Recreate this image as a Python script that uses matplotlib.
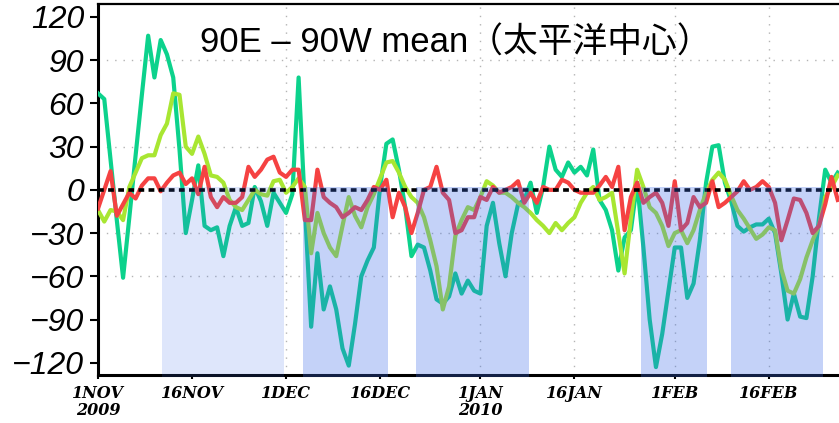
import numpy as np
import matplotlib
matplotlib.use("Agg")
import matplotlib.pyplot as plt

# days since 1 Nov 2009
days = np.arange(119)

# 90E-90W mean, three series
green = [67, 63, 21, -21, -61, -19, 24, 66, 107, 78, 104, 94, 78, 28, -30, -7, 17, -25, -28, -26,
         -46, -25, -12, -25, -23, 2, -8, -25, -2, -9, -16, -3, 78, -12, -95, -44, -83, -67, -83, -110,
         -122, -93, -60, -49, -40, 2, 32, 35, 14, -12, -46, -38, -40, -56, -76, -79, -74, -58, -72, -63,
         -70, -72, -25, -9, -37, -60, -30, -10, -7, 5, -16, 2, 30, 14, 9, 19, 12, 16, 10, 28,
         -7, -14, -28, -56, -33, -28, 5, -40, -90, -123, -100, -70, -40, -40, -75, -65, -35, 5, 30, 31,
         5, -8, -25, -29, -26, -24, -24, -20, -30, -58, -90, -72, -88, -89, -60, -20, 14, 5, 12]
yellow = [-14, -22, -14, -15, -21, 2, 12, 22, 24, 24, 38, 46, 67, 66, 30, 25, 37, 25, 10, 9,
          5, -7, -12, -14, -7, 0, -3, -4, 6, 7, -2, 2, 8, 2, -44, -16, -30, -40, -46, -25,
          -5, -18, -26, -12, -3, 8, 19, 20, 12, 2, -5, -9, -19, -35, -53, -83, -67, -32, -21, -12,
          -14, -5, 6, 3, -2, -2, -5, -9, -12, -16, -21, -25, -30, -23, -28, -23, -19, -9, -2, 2,
          -7, -5, -2, -30, -58, -20, 14, 2, -12, -16, -25, -39, -30, -28, -37, -28, -14, -2, 7, 12,
          7, -4, -14, -20, -27, -34, -31, -26, -28, -55, -70, -72, -62, -47, -35, -25, -5, 2, 10]
red = [-13, 0, 13, -18, -10, -2, -6, 3, 8, 8, -1, 5, 10, 12, 4, 8, -3, 16, -5, -12,
       -5, -9, -9, -5, 16, 9, 14, 21, 23, 12, 9, 14, 14, -21, -21, 14, -5, -9, -12, -19,
       -16, -12, -14, -7, 2, 0, 7, -19, -2, -12, -30, -16, 0, 2, 16, -2, -7, -30, -28, -19,
       -19, -5, -7, 2, -2, 0, 2, 6, -9, -2, -9, 2, 0, 0, 7, 5, 0, -2, -2, -2,
       3, 9, 2, 16, -28, -5, 5, -9, -5, -2, -9, -25, 6, -28, -23, -5, -12, -9, 6, -12,
       -9, -5, -1, 6, 0, 2, 6, 2, -9, -35, -21, -6, -7, -16, -30, -25, -10, 9, -7]

# shaded periods (day numbers)
shade_start = [10.2, 32.7, 50.7, 86.6, 101.0]
shade_end = [29.7, 46.2, 68.8, 97.2, 115.7]
shade_alpha = [0.17, 0.3, 0.3, 0.3, 0.3]

tick_days = [0, 15, 30, 45, 61, 76, 92, 107]
tick_labels = ['1NOV\n2009', '16NOV', '1DEC', '16DEC', '1JAN\n2010', '16JAN', '1FEB', '16FEB']
yticks = [-120, -90, -60, -30, 0, 30, 60, 90, 120]
ygrid = [-60, -30, 30, 90]
vgrid = [30, 61, 76, 92, 107]

title = '90E \u2013 90W mean\uff08太平洋中心\uff09'

fig = plt.figure(figsize=(8.39, 4.23), dpi=100)
ax = fig.add_axes([98 / 839, 48 / 423, 741 / 839, 371 / 423])

for v in ygrid:
    ax.axhline(v, color='#b4b4b4', lw=1.0, ls=(0, (1, 5)), zorder=1)
for v in vgrid:
    ax.axvline(v, color='#b4b4b4', lw=1.0, ls=(0, (1, 5)), zorder=1)

ax.plot(days, green, color='#0cd28c', lw=3, zorder=3)
ax.plot(days, yellow, color='#a8e632', lw=3, zorder=3)
ax.plot(days, red, color='#f54242', lw=3, zorder=3)

ax.axhline(0, color='black', lw=2.6, ls=(0, (1.6, 1.2)), zorder=4)

for s, e, a in zip(shade_start, shade_end, shade_alpha):
    ax.fill_between([s, e], -130, 2, color='#3c6ce8', alpha=a, lw=0,
                    zorder=5, clip_on=False)

ax.set_xlim(0, 118.2)
ax.set_ylim(-128.5, 129)

ax.set_yticks(yticks)
ax.set_yticklabels([str(v).replace('-', '\u2212') for v in yticks],
                   fontsize=23, fontstyle='italic', family='Liberation Sans')
ax.set_xticks(tick_days)
ax.set_xticklabels(tick_labels, fontsize=11.5, fontweight='bold', fontstyle='italic',
                   family='DejaVu Serif', linespacing=1.0)

ax.tick_params(axis='y', direction='out', length=6, width=1.5, pad=4)
ax.tick_params(axis='x', direction='out', length=3, width=1.5, pad=4)

ax.spines['right'].set_visible(False)
ax.spines['left'].set_linewidth(2.2)
ax.spines['bottom'].set_linewidth(2.2)
ax.spines['top'].set_linewidth(1.6)

fig.text(200 / 839, 1 - 53 / 423, title, fontsize=25, ha='left', va='baseline',
         family=['Liberation Sans', 'Noto Sans CJK JP'])

fig.savefig('out.png', dpi=100)
